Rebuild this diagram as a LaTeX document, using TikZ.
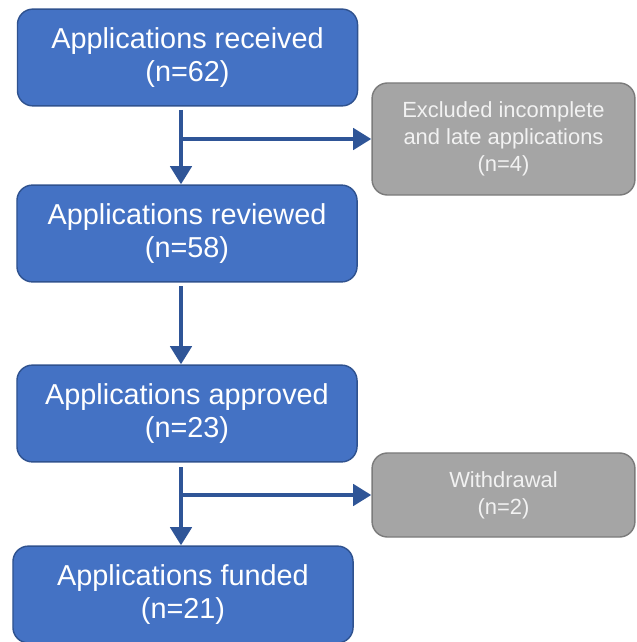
\documentclass[tikz,border=0pt]{standalone}
\usepackage{fontspec}
\setmainfont{Liberation Sans}
\usetikzlibrary{arrows.meta}
\definecolor{boxblue}{HTML}{4472C4}
\definecolor{boxedge}{HTML}{2F528F}
\definecolor{flowblue}{HTML}{2F5597}
\definecolor{boxgrey}{HTML}{A5A5A5}
\definecolor{greyedge}{HTML}{7B7B7B}

\begin{document}
\begin{tikzpicture}[x=0.025cm,y=-0.025cm,
  stage/.style={rectangle,rounded corners=11pt,draw=boxedge,line width=1pt,fill=boxblue,
    text=white,align=center,minimum width=8.5cm,minimum height=2.42cm,inner sep=0pt,
    font=\fontsize{20.5}{24}\selectfont},
  dropout/.style={rectangle,rounded corners=11pt,draw=greyedge,line width=1pt,fill=boxgrey,
    text=white!95!black,align=center,minimum width=6.57cm,inner sep=0pt,
    font=\fontsize{15.6}{19}\selectfont},
  flow/.style={draw=flowblue,line width=3.5pt,-{Triangle[length=13pt,width=15pt]}}]

\useasboundingbox (0,0) rectangle (636,642);

\node[stage] (recv) at (187.5,57.5) {Applications received\\(n=62)};
\node[stage] (rev) at (187,233.5) {Applications reviewed\\(n=58)};
\node[stage] (appr) at (187,413.5) {Applications approved\\(n=23)};
\node[stage] (fund) at (183,594.5) {Applications funded\\(n=21)};

\node[dropout,minimum height=2.8cm] (excl) at (503.5,139) {Excluded incomplete\\and late applications\\(n=4)};
\node[dropout,minimum height=2.1cm] (wd) at (503.5,495) {Withdrawal\\(n=2)};

% stems below each box
\coordinate (s1) at (181,110);
\coordinate (s2) at (181,286);
\coordinate (s3) at (181,467);

\draw[flow] (s1) -- (s1 |- rev.north);
\draw[flow] (s2) -- (s2 |- appr.north);
\draw[flow] (s3) -- (s3 |- fund.north);

\draw[flow] (s1 |- excl.west) -- (excl.west);
\draw[flow] (s3 |- wd.west) -- (wd.west);

\end{tikzpicture}
\end{document}
